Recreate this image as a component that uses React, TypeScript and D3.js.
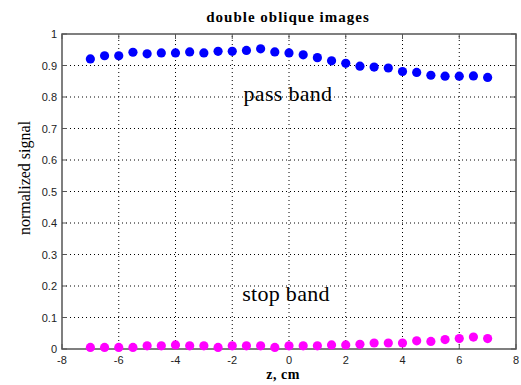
import React from 'react';
import * as d3 from 'd3';

const width = 521;
const height = 385;
const margin = { top: 34, right: 5, bottom: 36, left: 62 };

// z positions, cm
const zValues = [
  -7, -6.5, -6, -5.5, -5, -4.5, -4, -3.5, -3, -2.5, -2, -1.5, -1, -0.5, 0,
  0.5, 1, 1.5, 2, 2.5, 3, 3.5, 4, 4.5, 5, 5.5, 6, 6.5, 7
];
const passBand = [
  0.921, 0.931, 0.931, 0.942, 0.937, 0.94, 0.94, 0.943, 0.94, 0.945, 0.945,
  0.948, 0.953, 0.943, 0.94, 0.934, 0.925, 0.915, 0.907, 0.898, 0.895, 0.892,
  0.881, 0.878, 0.869, 0.866, 0.866, 0.867, 0.862
];
const stopBand = [
  0.005, 0.005, 0.005, 0.005, 0.01, 0.01, 0.013, 0.01, 0.01, 0.005, 0.01,
  0.01, 0.01, 0.005, 0.01, 0.01, 0.01, 0.013, 0.013, 0.015, 0.019, 0.019,
  0.019, 0.026, 0.024, 0.03, 0.033, 0.038, 0.033
];
const xTicks = [-8, -6, -4, -2, 0, 2, 4, 6, 8];
const yTicks = [0, 0.1, 0.2, 0.3, 0.4, 0.5, 0.6, 0.7, 0.8, 0.9, 1];

const serif = 'Liberation Serif, Times New Roman';

const App = () => {
  const x = d3.scaleLinear().domain([-8, 8]).range([margin.left, width - margin.right]);
  const y = d3.scaleLinear().domain([0, 1]).range([height - margin.bottom, margin.top]);
  const [x0, x1] = x.range();
  const [y0, y1] = y.range();

  return (
    <svg width={width} height={height} style={{ position: 'absolute', left: 0, top: 0 }}>
      <rect width={width} height={height} fill="white" />
      {/* grid */}
      {xTicks.slice(1, -1).map(t => (
        <line key={'gx' + t} x1={x(t)} x2={x(t)} y1={y0} y2={y1} stroke="#000" strokeWidth={1} strokeDasharray="1,3" />
      ))}
      {yTicks.slice(1, -1).map(t => (
        <line key={'gy' + t} x1={x0} x2={x1} y1={y(t)} y2={y(t)} stroke="#000" strokeWidth={1} strokeDasharray="1,3" />
      ))}
      {/* tick marks inside */}
      {xTicks.map(t => (
        <g key={'tx' + t} stroke="#555">
          <line x1={x(t)} x2={x(t)} y1={y0} y2={y0 - 5} />
          <line x1={x(t)} x2={x(t)} y1={y1} y2={y1 + 5} />
        </g>
      ))}
      {yTicks.map(t => (
        <g key={'ty' + t} stroke="#555">
          <line x1={x0} x2={x0 + 5} y1={y(t)} y2={y(t)} />
          <line x1={x1} x2={x1 - 5} y1={y(t)} y2={y(t)} />
        </g>
      ))}
      <rect x={x0} y={y1} width={x1 - x0} height={y0 - y1} fill="none" stroke="#555" strokeWidth={1.5} />
      {/* tick labels */}
      {xTicks.map(t => (
        <text key={'lx' + t} x={x(t)} y={y0 + 15} textAnchor="middle" fontFamily="Liberation Sans, Arial" fontSize={11} fill="#222">
          {t}
        </text>
      ))}
      {yTicks.map(t => (
        <text key={'ly' + t} x={x0 - 5} y={y(t) + 4} textAnchor="end" fontFamily="Liberation Sans, Arial" fontSize={11} fill="#222">
          {t}
        </text>
      ))}
      {/* points */}
      {zValues.map((z, i) => (
        <circle key={'p' + i} cx={x(z)} cy={y(passBand[i])} r={4.6} fill="#0000ff" />
      ))}
      {zValues.map((z, i) => (
        <circle key={'s' + i} cx={x(z)} cy={y(stopBand[i])} r={4.6} fill="#ff00ff" />
      ))}
      {/* texts */}
      <text x={288} y={22} textAnchor="middle" fontFamily={serif} fontWeight="bold" fontSize={15} letterSpacing={1}>
        double oblique images
      </text>
      <text x={288} y={101} textAnchor="middle" fontFamily={serif} fontSize={22} letterSpacing={0.3}>
        pass band
      </text>
      <text x={286} y={301} textAnchor="middle" fontFamily={serif} fontSize={22} letterSpacing={0.3}>
        stop band
      </text>
      <text x={283} y={379} textAnchor="middle" fontFamily={serif} fontWeight="bold" fontSize={14} letterSpacing={0.5}>
        z, cm
      </text>
      <text transform="translate(30, 178) rotate(-90)" textAnchor="middle" fontFamily={serif} fontSize={16}>
        normalized signal
      </text>
    </svg>
  );
};

export default App;
